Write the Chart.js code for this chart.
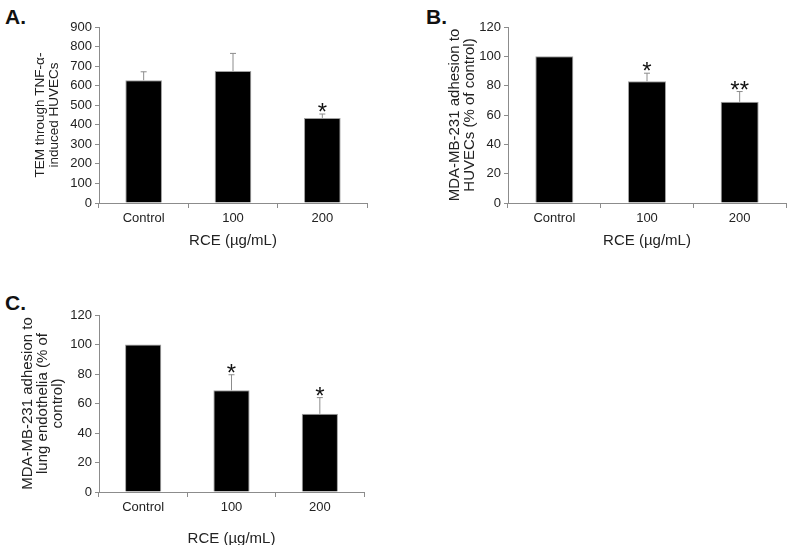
<!DOCTYPE html>
<html>
<head>
<meta charset="utf-8">
<script src="https://cdn.jsdelivr.net/npm/chart.js@4.4.1/dist/chart.umd.min.js"></script>
<style>
  body { margin: 0; background: #fff; width: 787px; height: 545px; position: relative; overflow: hidden;
         font-family: "Liberation Sans", Arial, sans-serif; }
  .box { position: absolute; }
  .tag { position: absolute; font-weight: bold; font-size: 21px; color: #111; line-height: 1; }
</style>
</head>
<body>
<div class="tag" style="left:5px;top:6px">A.</div>
<div class="tag" style="left:426px;top:6px">B.</div>
<div class="tag" style="left:5px;top:292px">C.</div>

<div class="box" style="left:0;top:0;width:395px;height:262px"><canvas id="chartA"></canvas></div>
<div class="box" style="left:400px;top:0;width:387px;height:262px"><canvas id="chartB"></canvas></div>
<div class="box" style="left:0;top:270px;width:395px;height:278px"><canvas id="chartC"></canvas></div>

<script>
// categories shared by all three panels
const categories = ["Control", "100", "200"];

// A. TEM through TNF-a-induced HUVECs
const temValues = [628, 675, 435];
const temErrors = [43, 90, 20];
const temStars = ["", "", "*"];

// B. adhesion to HUVECs (% of control)
const huvecValues = [100, 83, 69];
const huvecErrors = [0, 5.5, 7];
const huvecStars = ["", "*", "**"];

// C. adhesion to lung endothelia (% of control)
const lungValues = [100, 69, 53];
const lungErrors = [0, 10.5, 11];
const lungStars = ["", "*", "*"];

const xTitle = "RCE (µg/mL)";
const textColor = "#222";
const axisColor = "#8c8c8c";

// error whiskers (upper only) + significance stars
const errorBarPlugin = {
  id: "errorBars",
  afterDatasetsDraw(chart) {
    const opts = chart.options.plugins.errorBars;
    const yScale = chart.scales.y;
    const meta = chart.getDatasetMeta(0);
    const ctx = chart.ctx;
    ctx.save();
    meta.data.forEach((bar, i) => {
      const v = chart.data.datasets[0].data[i];
      const top = yScale.getPixelForValue(v + opts.errors[i]);
      if (opts.errors[i] > 0) {
        ctx.strokeStyle = "#8c8c8c";
        ctx.lineWidth = 1;
        ctx.beginPath();
        ctx.moveTo(bar.x, bar.y);
        ctx.lineTo(bar.x, top);
        ctx.moveTo(bar.x - 3, top);
        ctx.lineTo(bar.x + 3, top);
        ctx.stroke();
      }
      if (opts.stars[i]) {
        ctx.fillStyle = "#111";
        ctx.font = "24px 'Liberation Sans', Arial, sans-serif";
        ctx.textAlign = "center";
        ctx.textBaseline = "alphabetic";
        ctx.fillText(opts.stars[i], bar.x, top + 6);
      }
    });
    ctx.restore();
  }
};

function makeChart(id, values, errors, stars, yMax, yStep, yTitle, yTitleFont, pad, yWidth, xHeight, titlePad, xTitlePad) {
  return new Chart(document.getElementById(id), {
    type: "bar",
    data: {
      labels: categories,
      datasets: [{
        data: values,
        backgroundColor: "#000",
        borderColor: "#a0a0a0",
        borderWidth: 1,
        barPercentage: 0.41,
        categoryPercentage: 1
      }]
    },
    options: {
      responsive: true,
      maintainAspectRatio: false,
      animation: false,
      layout: { padding: pad },
      plugins: {
        legend: { display: false },
        tooltip: { enabled: false },
        errorBars: { errors: errors, stars: stars }
      },
      scales: {
        x: {
          grid: { drawOnChartArea: false, tickLength: 5, color: axisColor, offset: true },
          border: { color: axisColor },
          ticks: { color: textColor, font: { size: 13, family: "Liberation Sans" }, padding: 3 },
          title: { display: true, text: xTitle, color: textColor,
                   font: { size: 15, family: "Liberation Sans" }, padding: xTitlePad },
          afterFit: s => { s.height = xHeight; }
        },
        y: {
          min: 0, max: yMax,
          grid: { drawOnChartArea: false, tickLength: 4, color: axisColor },
          border: { color: axisColor },
          ticks: { stepSize: yStep, color: textColor, font: { size: 13, family: "Liberation Sans" }, padding: 3 },
          title: { display: true, text: yTitle, color: textColor, font: yTitleFont, padding: titlePad },
          afterFit: s => { s.width = yWidth; }
        }
      }
    },
    plugins: [errorBarPlugin]
  });
}

makeChart("chartA", temValues, temErrors, temStars, 900, 100,
  ["TEM through TNF-α-", "induced HUVECs"],
  { size: 13.5, family: "Liberation Sans", lineHeight: 1.1 },
  { left: 0, top: 27, right: 28, bottom: 0 }, 99, 59, { top: 32.5, bottom: 0 }, { top: 0, bottom: 12 });

makeChart("chartB", huvecValues, huvecErrors, huvecStars, 120, 20,
  ["MDA-MB-231 adhesion to", "HUVECs (% of control)"],
  { size: 15, family: "Liberation Sans", lineHeight: 1.0 },
  { left: 0, top: 27, right: 1, bottom: 0 }, 108, 59, { top: 47.5, bottom: 0 }, { top: 0, bottom: 12 });

makeChart("chartC", lungValues, lungErrors, lungStars, 120, 20,
  ["MDA-MB-231 adhesion to", "lung endothelia (% of", "control)"],
  { size: 15, family: "Liberation Sans", lineHeight: 0.97 },
  { left: 0, top: 45, right: 31, bottom: 0 }, 99, 56, { top: 21, bottom: 0 }, { top: 0, bottom: 0 });
</script>
</body>
</html>
